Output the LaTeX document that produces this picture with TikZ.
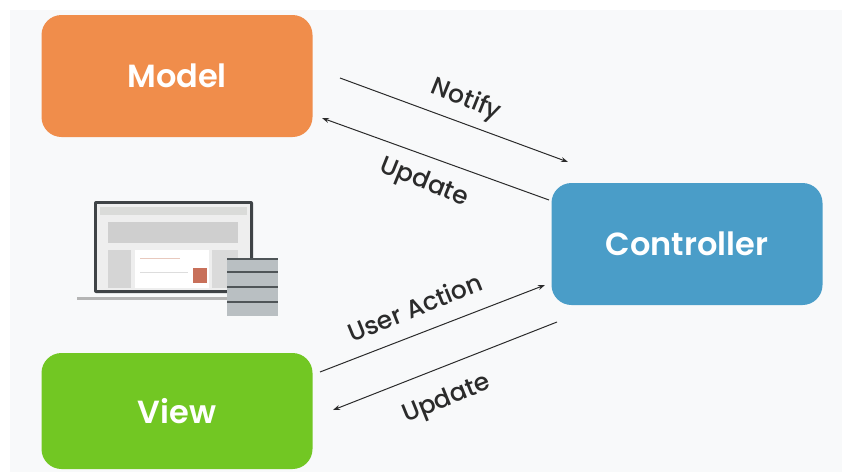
\documentclass[tikz,border=0pt]{standalone}
\usepackage{fontspec}
\setmainfont{Poppins}
\newfontfamily\semifont{Poppins}[UprightFont={* SemiBold}]
\newfontfamily\medfont{Poppins}[UprightFont={* Medium}]
\usetikzlibrary{arrows.meta}
\definecolor{modelorange}{HTML}{F08D4B}
\definecolor{ctrlblue}{HTML}{4A9DC8}
\definecolor{viewgreen}{HTML}{72C723}
\definecolor{pagegray}{HTML}{F8F9FA}
\definecolor{framegray}{HTML}{3F4346}
\definecolor{wire}{HTML}{2B2B2B}
\definecolor{screengray}{HTML}{EEEEEE}
\definecolor{bargray}{HTML}{DADBD9}
\definecolor{headgray}{HTML}{CFCFCF}
\definecolor{sidegray}{HTML}{D5D5D5}
\definecolor{rightgray}{HTML}{DADADA}
\definecolor{linered}{HTML}{E8C9BE}
\definecolor{linegray}{HTML}{DDDDDD}
\definecolor{btnred}{HTML}{C8705A}
\definecolor{basegray}{HTML}{B5B5B5}
\definecolor{rackgray}{HTML}{B9BFC2}
\definecolor{rackdark}{HTML}{4F5558}
\begin{document}
\begin{tikzpicture}[x=1pt,y=-1pt,
    box/.style={rounded corners=20pt,minimum width=271pt,minimum height=122pt,
      text=white,font=\fontsize{32}{37}\semifont,inner sep=0pt},
    lbl/.style={text=wire,font=\fontsize{25}{30}\medfont,inner sep=0pt},
    flow/.style={draw=wire,line width=1pt,-{Stealth[length=7pt,width=5pt]}}]
        \useasboundingbox (0,0) rectangle (842,472);
        \fill[white] (0,0) rectangle (842,472);
        \fill[pagegray] (10,10) rectangle (842,472);
        \node[box,fill=modelorange] (model) at (177,76) {Model};
        \node[box,fill=ctrlblue] (ctrl) at (687,244) {Controller};
        \node[box,fill=viewgreen,minimum height=116pt] (view) at (177,411) {View};
        \fill[framegray,rounded corners=2pt] (94,201) rectangle (253,293);
        \fill[screengray] (97,204) rectangle (250,290);
        \fill[bargray] (100,207) rectangle (247,215);
        \fill[headgray] (108,222) rectangle (238,243);
        \fill[sidegray] (108,250) rectangle (131,288);
        \fill[white] (135,250) rectangle (209,288);
        \draw[linered,line width=1pt] (140,258) -- (180,258);
        \draw[linegray,line width=1pt] (140,272) -- (188,272);
        \fill[btnred] (193,268) rectangle (207,283);
        \fill[rightgray] (212,250) rectangle (238,288);
        \draw[basegray,line width=3pt] (77,298) -- (230,298);
        \fill[rackgray] (227,258) rectangle (278,316);
        \foreach \y in {259,272,287,302}
            \draw[rackdark,line width=2.5pt] (227,\y) -- (278,\y);
        \coordinate (notifyA) at (340,78);
        \coordinate (notifyB) at (568,162);
        \coordinate (updA) at (549,200);
        \coordinate (updB) at (322,118);
        \coordinate (actA) at (320,372);
        \coordinate (actB) at (545,285);
        \coordinate (upvA) at (557,322);
        \coordinate (upvB) at (333,410);
        \draw[flow] (notifyA) -- (notifyB);
        \draw[flow] (updA) -- (updB);
        \draw[flow] (actA) -- (actB);
        \draw[flow] (upvA) -- (upvB);
        \node[lbl,rotate=-22] (notifyLbl) at (466,100) {Notify};
        \node[lbl,rotate=-22] (updLbl) at (424,183) {Update};
        \node[lbl,rotate=22] (actLbl) at (415,307) {User Action};
        \node[lbl,rotate=22] (upvLbl) at (447,400) {Update};
\end{tikzpicture}
\end{document}
